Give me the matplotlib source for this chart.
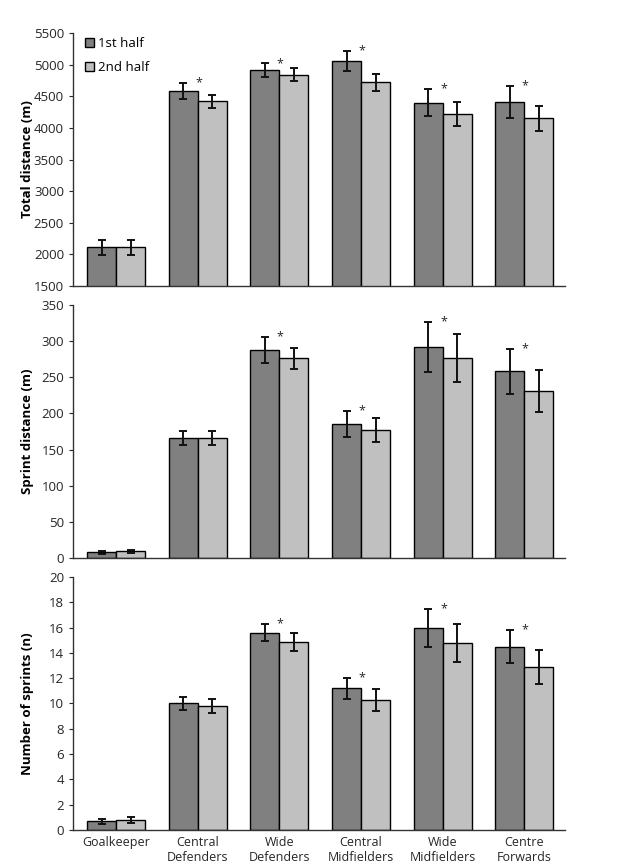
import numpy as np
import matplotlib.pyplot as plt

plt.rcParams['font.family'] = ['Open Sans', 'DejaVu Sans']

positions = ['Goalkeeper', 'Central\nDefenders', 'Wide\nDefenders',
             'Central\nMidfielders', 'Wide\nMidfielders', 'Centre\nForwards']

# Total distance (m)
total_1st = [2110, 4580, 4910, 5060, 4400, 4410]
total_1st_sd = [115, 130, 110, 160, 220, 255]
total_2nd = [2110, 4420, 4840, 4720, 4220, 4150]
total_2nd_sd = [115, 100, 100, 130, 185, 195]
total_sig = [False, True, True, True, True, True]

# Sprint distance (m)
sprint_1st = [8, 166, 288, 186, 292, 258]
sprint_1st_sd = [2, 10, 18, 18, 35, 31]
sprint_2nd = [9, 166, 276, 177, 277, 231]
sprint_2nd_sd = [2, 10, 15, 16, 33, 29]
sprint_sig = [False, False, True, True, True, True]

# Number of sprints (n)
nsprint_1st = [0.7, 10.0, 15.6, 11.2, 16.0, 14.5]
nsprint_1st_sd = [0.2, 0.53, 0.69, 0.84, 1.5, 1.3]
nsprint_2nd = [0.8, 9.8, 14.85, 10.3, 14.8, 12.9]
nsprint_2nd_sd = [0.22, 0.55, 0.7, 0.86, 1.49, 1.32]
nsprint_sig = [False, False, True, True, True, True]

panels = [
    ('Total distance (m)', total_1st, total_1st_sd, total_2nd, total_2nd_sd, total_sig,
     (1500, 5500), np.arange(1500, 5501, 500)),
    ('Sprint distance (m)', sprint_1st, sprint_1st_sd, sprint_2nd, sprint_2nd_sd, sprint_sig,
     (0, 350), np.arange(0, 351, 50)),
    ('Number of sprints (n)', nsprint_1st, nsprint_1st_sd, nsprint_2nd, nsprint_2nd_sd, nsprint_sig,
     (0, 20), np.arange(0, 21, 2)),
]

dark = '#808080'
light = '#c0c0c0'
txt = '#262626'

fig = plt.figure(figsize=(6.26, 8.66), dpi=100)
boxes = [(0.9619, 0.6697), (0.6478, 0.3557), (0.3337, 0.0416)]

x = np.arange(len(positions))
w = 0.355
ekw = dict(elinewidth=1.4, capthick=1.4, ecolor='#111111')

for k, (label, m1, s1, m2, s2, sig, ylim, yticks) in enumerate(panels):
    top, bot = boxes[k]
    ax = fig.add_axes([0.1166, bot, 0.786, top - bot])
    ax.bar(x - w / 2, m1, w, yerr=s1, color=dark, edgecolor='black', linewidth=1.0,
           capsize=3, error_kw=ekw, label='1st half')
    ax.bar(x + w / 2, m2, w, yerr=s2, color=light, edgecolor='black', linewidth=1.0,
           capsize=3, error_kw=ekw, label='2nd half')
    for i in range(len(positions)):
        if sig[i]:
            ax.text(x[i] + 0.01, m1[i] + s1[i], '*', ha='center', va='center',
                    fontsize=9, color=txt)
    ax.set_ylim(*ylim)
    ax.set_yticks(yticks)
    ax.set_xlim(-0.53, 5.5)
    ax.set_ylabel(label, fontsize=9.5, fontweight='bold', color='black')
    ax.yaxis.set_label_coords(-0.08, 0.5)
    for s in ['top', 'right']:
        ax.spines[s].set_visible(False)
    for s in ['left', 'bottom']:
        ax.spines[s].set_color('#333333')
        ax.spines[s].set_linewidth(1.0)
    ax.tick_params(axis='y', direction='out', length=3, labelsize=9.5, colors=txt)
    ax.tick_params(axis='x', length=0, labelsize=9, colors=txt, pad=4)
    ax.set_xticks(x)
    if k == 2:
        ax.set_xticklabels(positions, linespacing=1.2)
    else:
        ax.set_xticklabels([])
    if k == 0:
        ax.legend(loc='upper left', bbox_to_anchor=(0.0, 1.03), frameon=False,
                  fontsize=9.5, handlelength=0.7, handleheight=0.7,
                  handletextpad=0.3, labelspacing=0.8)

fig.savefig('out.png', dpi=100, facecolor='white')
